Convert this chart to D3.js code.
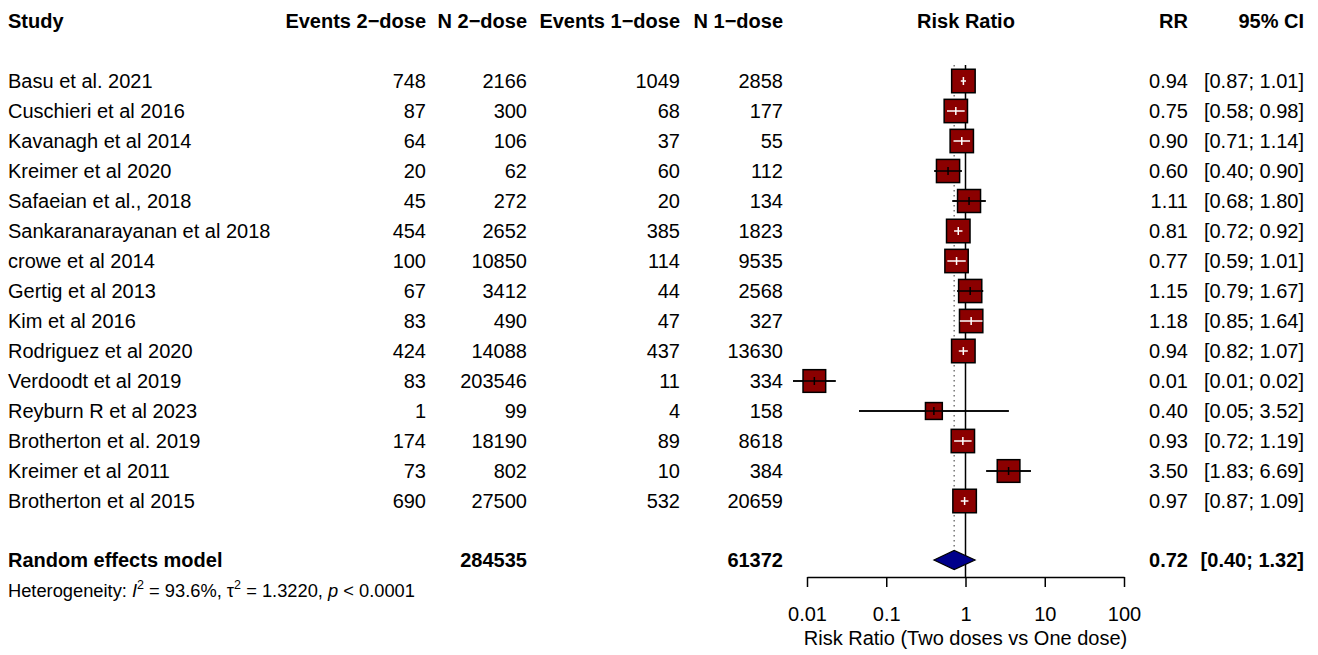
<!DOCTYPE html>
<html>
<head>
<meta charset="utf-8">
<script src="https://cdn.jsdelivr.net/npm/d3@7/dist/d3.min.js"></script>
<style>
  html, body { margin: 0; padding: 0; background: #fff; }
  svg { display: block; font-family: "Liberation Sans", Arial, Helvetica, sans-serif; }
</style>
</head>
<body>
<svg id="chart" width="1318" height="655"></svg>
<script>
// Study-level data: two-dose vs one-dose HPV vaccination
const studies = [
  "Basu et al. 2021", "Cuschieri et al 2016", "Kavanagh et al 2014", "Kreimer et al 2020",
  "Safaeian et al., 2018", "Sankaranarayanan et al 2018", "crowe et al 2014", "Gertig et al 2013",
  "Kim et al 2016", "Rodriguez et al 2020", "Verdoodt et al 2019", "Reyburn R et al 2023",
  "Brotherton et al. 2019", "Kreimer et al 2011", "Brotherton et al 2015"
];
const events2 = [748, 87, 64, 20, 45, 454, 100, 67, 83, 424, 83, 1, 174, 73, 690];
const n2 = [2166, 300, 106, 62, 272, 2652, 10850, 3412, 490, 14088, 203546, 99, 18190, 802, 27500];
const events1 = [1049, 68, 37, 60, 20, 385, 114, 44, 47, 437, 11, 4, 89, 10, 532];
const n1 = [2858, 177, 55, 112, 134, 1823, 9535, 2568, 327, 13630, 334, 158, 8618, 384, 20659];
const riskRatio = [0.9409, 0.7549, 0.8975, 0.6022, 1.1085, 0.8106, 0.7709, 1.1461, 1.1785, 0.9387, 0.01238, 0.3990, 0.9263, 3.4953, 0.9743];
const ciLower = [0.8726, 0.5837, 0.7058, 0.4037, 0.6829, 0.7175, 0.5902, 0.7862, 0.8479, 0.8230, 0.006659, 0.04526, 0.7184, 1.8255, 0.8714];
const ciUpper = [1.0145, 0.9762, 1.1413, 0.8981, 1.7993, 0.9158, 1.0070, 1.6707, 1.6382, 1.0707, 0.02301, 3.5186, 1.1943, 6.6930, 1.0894];
// random-effects weights (%)
const weights = [7.0, 6.9, 6.9, 6.8, 6.7, 7.0, 6.9, 6.8, 6.9, 7.0, 6.5, 3.6, 6.9, 6.5, 7.0];

// pooled estimate
const pooledLabel = "Random effects model";
const totalN2 = 284535;
const totalN1 = 61372;
const pooledRR = 0.72;
const pooledLower = 0.40;
const pooledUpper = 1.32;
const heterogeneity = { I2: "93.6%", tau2: "1.3220", p: "< 0.0001" };

// column headers and axis ticks
const headers = ["Study", "Events 2\u2212dose", "N 2\u2212dose", "Events 1\u2212dose", "N 1\u2212dose", "Risk Ratio", "RR", "95% CI"];
const tickValues = [0.01, 0.1, 1, 10, 100];
const tickLabels = ["0.01", "0.1", "1", "10", "100"];
const axisTitle = "Risk Ratio (Two doses vs One dose)";

const svg = d3.select("#chart");
const FS = 20;

// layout
const colX = { study: 8, ev2: 426, n2: 527, ev1: 680, n1: 783, rr: 1188, ci: 1304, plot: 966 };
const x = d3.scaleLog().domain([0.01, 100]).range([807, 1124]);
const y = d3.scaleBand().domain(studies).range([66, 516]);
const yc = s => y(s) + y.bandwidth() / 2;
const headerY = 28;
const pooledY = 560;
const axisY = 577;
const maxSide = 23.5;
const side = d3.scaleSqrt().domain([0, d3.max(weights)]).range([0, maxSide]);
const fmt2 = d3.format(".2f");

// headers
const hdr = svg.append("g").attr("font-weight", "bold").attr("font-size", FS);
const hdrPos = [
  [colX.study, "start"], [colX.ev2, "end"], [colX.n2, "end"], [colX.ev1, "end"],
  [colX.n1, "end"], [colX.plot, "middle"], [colX.rr, "end"], [colX.ci, "end"]
];
headers.forEach((h, i) => {
  hdr.append("text").attr("x", hdrPos[i][0]).attr("y", headerY)
    .attr("text-anchor", hdrPos[i][1]).text(h);
});

// reference lines: no effect (RR = 1) and pooled estimate
svg.append("line")
  .attr("x1", x(1)).attr("x2", x(1)).attr("y1", 65).attr("y2", axisY)
  .attr("stroke", "#000").attr("stroke-width", 1.5);
svg.append("line")
  .attr("x1", x(pooledRR)).attr("x2", x(pooledRR)).attr("y1", 65).attr("y2", pooledY - 9)
  .attr("stroke", "#777").attr("stroke-width", 1.5).attr("stroke-dasharray", "1.5,3.5");

// study rows: text columns
const rows = svg.append("g").attr("font-size", FS);
studies.forEach((s, i) => {
  const by = yc(s) + 7;
  const cells = [
    [colX.study, "start", s],
    [colX.ev2, "end", events2[i]],
    [colX.n2, "end", n2[i]],
    [colX.ev1, "end", events1[i]],
    [colX.n1, "end", n1[i]],
    [colX.rr, "end", fmt2(riskRatio[i])],
    [colX.ci, "end", `[${fmt2(ciLower[i])}; ${fmt2(ciUpper[i])}]`]
  ];
  cells.forEach(c => rows.append("text").attr("x", c[0]).attr("y", by)
    .attr("text-anchor", c[1]).text(c[2]));
});

// study rows: confidence intervals and weighted squares
const marks = svg.append("g");
studies.forEach((s, i) => {
  const cy = yc(s);
  const cx = x(riskRatio[i]);
  const sd = side(weights[i]);
  const lo = x(ciLower[i]), hi = x(ciUpper[i]);
  const inside = lo >= cx - sd / 2 && hi <= cx + sd / 2;
  const g = marks.append("g");
  if (!inside) {
    g.append("line").attr("x1", lo).attr("x2", hi).attr("y1", cy).attr("y2", cy)
      .attr("stroke", "#000").attr("stroke-width", 1.5);
  }
  g.append("rect")
    .attr("x", cx - sd / 2).attr("y", cy - sd / 2).attr("width", sd).attr("height", sd)
    .attr("fill", "#8b0000").attr("stroke", "#000").attr("stroke-width", 1.5);
  const lineCol = inside ? "#fff" : "#000";
  g.append("line").attr("x1", lo).attr("x2", hi).attr("y1", cy).attr("y2", cy)
    .attr("stroke", lineCol).attr("stroke-width", 1.5);
  g.append("line").attr("x1", cx).attr("x2", cx).attr("y1", cy - 4).attr("y2", cy + 4)
    .attr("stroke", lineCol).attr("stroke-width", 1.5);
});

// pooled row
const pooled = svg.append("g").attr("font-size", FS).attr("font-weight", "bold");
const py = pooledY + 7;
pooled.append("text").attr("x", colX.study).attr("y", py).text(pooledLabel);
pooled.append("text").attr("x", colX.n2).attr("y", py).attr("text-anchor", "end").text(totalN2);
pooled.append("text").attr("x", colX.n1).attr("y", py).attr("text-anchor", "end").text(totalN1);
pooled.append("text").attr("x", colX.rr).attr("y", py).attr("text-anchor", "end").text(fmt2(pooledRR));
pooled.append("text").attr("x", colX.ci).attr("y", py).attr("text-anchor", "end")
  .text(`[${fmt2(pooledLower)}; ${fmt2(pooledUpper)}]`);

svg.append("path")
  .attr("d", `M${x(pooledLower)},${pooledY} L${x(pooledRR)},${pooledY - 9.5} L${x(pooledUpper)},${pooledY} L${x(pooledRR)},${pooledY + 9.5} Z`)
  .attr("fill", "#00008b").attr("stroke", "#000").attr("stroke-width", 1.2);

// heterogeneity statement
const het = svg.append("text").attr("x", colX.study).attr("y", 597).attr("font-size", 18.3);
het.append("tspan").text("Heterogeneity: ");
het.append("tspan").attr("font-style", "italic").text("I");
het.append("tspan").attr("font-size", 12.5).attr("dy", -8).text("2");
het.append("tspan").attr("dy", 8).text(` = ${heterogeneity.I2}, \u03c4`);
het.append("tspan").attr("font-size", 12.5).attr("dy", -8).text("2");
het.append("tspan").attr("dy", 8).text(` = ${heterogeneity.tau2}, `);
het.append("tspan").attr("font-style", "italic").text("p");
het.append("tspan").text(` ${heterogeneity.p}`);

// log axis
const axis = d3.axisBottom(x)
  .tickValues(tickValues)
  .tickFormat((d, i) => tickLabels[i])
  .tickSize(10).tickSizeOuter(0).tickPadding(20);
const ax = svg.append("g").attr("transform", `translate(0,${axisY})`).call(axis);
ax.select(".domain").attr("stroke", "#000").attr("stroke-width", 1.5);
ax.selectAll(".tick line").attr("stroke", "#000").attr("stroke-width", 1.5);
ax.selectAll(".tick text").attr("font-size", FS).attr("fill", "#000")
  .attr("font-family", "\"Liberation Sans\", Arial, sans-serif");

svg.append("text").attr("x", x(1)).attr("y", 645).attr("text-anchor", "middle")
  .attr("font-size", FS).text(axisTitle);
</script>
</body>
</html>
